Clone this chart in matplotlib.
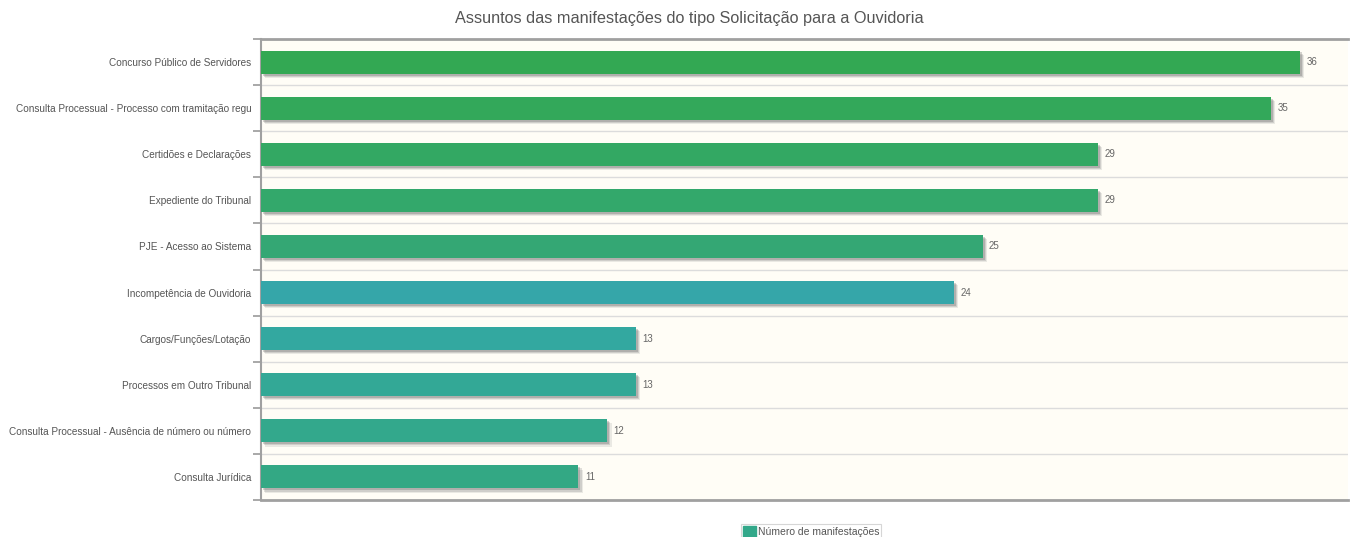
import numpy as np
import matplotlib
matplotlib.use("Agg")
import matplotlib.pyplot as plt
import matplotlib.patheffects as pe

categories = [
    "Concurso Público de Servidores",
    "Consulta Processual - Processo com tramitação regu",
    "Certidões e Declarações",
    "Expediente do Tribunal",
    "PJE - Acesso ao Sistema",
    "Incompetência de Ouvidoria",
    "Cargos/Funções/Lotação",
    "Processos em Outro Tribunal",
    "Consulta Processual - Ausência de número ou número",
    "Consulta Jurídica",
]
values = [36, 35, 29, 29, 25, 24, 13, 13, 12, 11]
bar_colors = ["#33a853", "#33a85a", "#33a863", "#33a86b", "#34a774",
              "#35a6a9", "#33a8a0", "#33a896", "#33a88c", "#33a884"]
title = "Assuntos das manifestações do tipo Solicitação para a Ouvidoria"
series_name = "Número de manifestações"

plt.rcParams['font.family'] = ['Liberation Sans', 'DejaVu Sans']

fig = plt.figure(figsize=(13.5, 5.37), dpi=100)
ax = fig.add_axes([261/1350, 1-500/537, 1087/1350, 461/537])
ax.set_facecolor("#fffdf6")

y = np.arange(len(categories))
# jqplot-like soft shadow: a few stacked offsets
shadow = [pe.SimplePatchShadow(offset=(3.0, -3.0), shadow_rgbFace="#777777", alpha=0.15),
          pe.SimplePatchShadow(offset=(2.2, -2.2), shadow_rgbFace="#666666", alpha=0.2),
          pe.SimplePatchShadow(offset=(1.4, -1.4), shadow_rgbFace="#555555", alpha=0.25),
          pe.Normal()]
bars = ax.barh(y, values, height=0.5, color=bar_colors, zorder=3)
for b in bars:
    b.set_path_effects(shadow)

for yi, v in zip(y, values):
    ax.text(v + 0.22, yi, str(v), va="center", ha="left", fontsize=7, color="#666666", zorder=4)

ax.set_xlim(0, 37.66)
ax.set_ylim(len(categories) - 0.5, -0.5)
ax.set_xticks([])
ax.set_yticks(y)
ax.set_yticklabels(categories, fontsize=7.2, color="#555555")
ax.tick_params(axis="y", which="major", length=0, pad=7)
ax.set_yticks(np.arange(-0.5, len(categories)), minor=True)
ax.tick_params(axis="y", which="minor", length=6, width=1.2, color="#999999", direction="out")
ax.grid(axis="y", which="minor", color="#dcdcdc", linewidth=1, zorder=1)

ax.spines["right"].set_visible(False)
ax.spines["left"].set_color("#a0a0a0")
ax.spines["left"].set_linewidth(1.5)
ax.spines["top"].set_color("#a0a0a0")
ax.spines["top"].set_linewidth(2)
ax.spines["bottom"].set_color("#a0a0a0")
ax.spines["bottom"].set_linewidth(2)
ax.spines["bottom"].set_path_effects([pe.SimplePatchShadow(offset=(1.5, -1.5), alpha=0.3), pe.Normal()])

fig.text(689/1350, 1-18/537, title, ha="center", va="center", fontsize=11.7, color="#555555")

leg = fig.legend([plt.Rectangle((0, 0), 1, 1, color="#33a88a")], [series_name],
                 loc="upper left", bbox_to_anchor=(741/1350, 1-524/537),
                 fontsize=7.5, frameon=True, handlelength=1.2, handleheight=1.2,
                 handletextpad=0.2, borderpad=0.2, borderaxespad=0, fancybox=False)
leg.get_frame().set_edgecolor("#cccccc")
leg.get_frame().set_linewidth(0.8)
for t in leg.get_texts():
    t.set_color("#555555")

fig.savefig("out.png", dpi=100, facecolor="white")
